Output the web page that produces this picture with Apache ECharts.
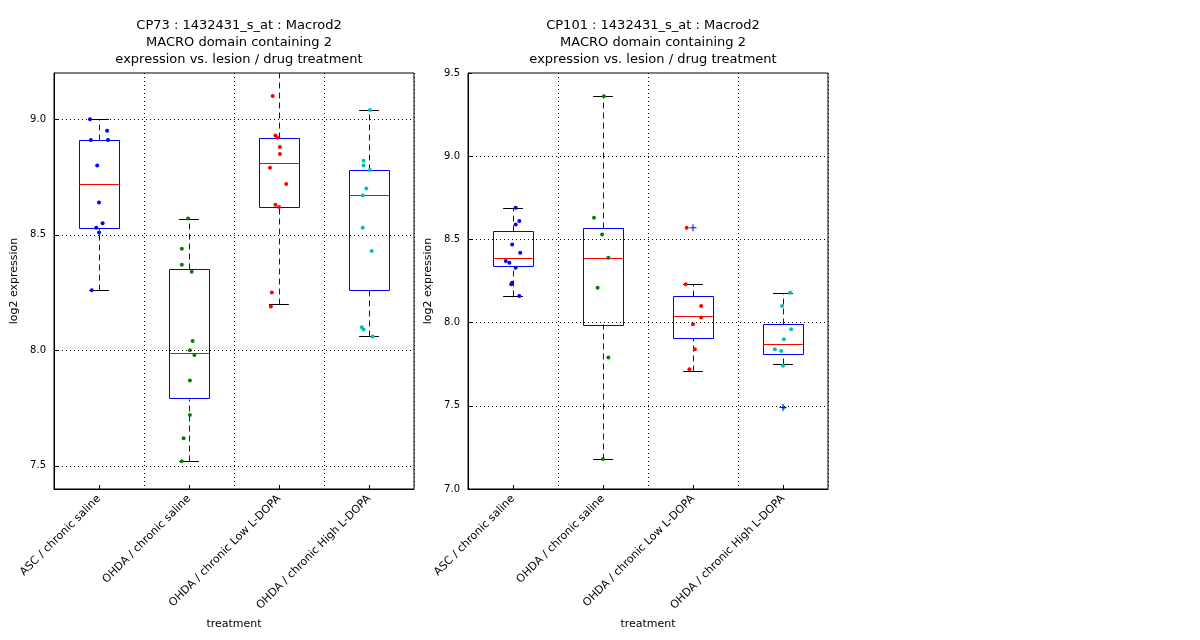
<!DOCTYPE html>
<html>
<head>
<meta charset="utf-8">
<script src="https://cdn.jsdelivr.net/npm/echarts@6/dist/echarts.min.js"></script>
<style>body{margin:0;background:#fff}#chart{width:1200px;height:640px}</style>
</head>
<body>
<div id="chart"></div>
<script>
// Categorias do eixo x
const categorias = ["ASC / chronic saline", "OHDA / chronic saline", "OHDA / chronic Low L-DOPA", "OHDA / chronic High L-DOPA"];
const coresPontos = ["#0000ff", "#008000", "#ff0000", "#00bfbf"];

// Painel 1 : CP73 — caixas [min, q1, mediana, q3, max]
const caixas1 = [
    [8.26, 8.53, 8.72, 8.91, 9.00],
    [7.52, 7.79, 7.99, 8.35, 8.57],
    [8.20, 8.62, 8.81, 8.92, 9.22],
    [8.06, 8.26, 8.67, 8.78, 9.04]
];
// Pontos de cada grupo: [deslocamento em x, valor]
const pontos1 = [
    [[-0.10, 9.00], [-0.09, 8.91], [0.09, 8.95], [0.10, 8.91], [-0.02, 8.80], [0.00, 8.64], [0.04, 8.55], [-0.03, 8.53], [0.00, 8.51], [-0.08, 8.26]],
    [[-0.01, 8.57], [-0.08, 8.44], [-0.08, 8.37], [0.03, 8.34], [0.04, 8.04], [0.01, 8.00], [0.06, 7.98], [0.01, 7.87], [0.01, 7.72], [-0.06, 7.62], [-0.08, 7.52]],
    [[-0.07, 9.10], [-0.04, 8.93], [-0.02, 8.92], [0.01, 8.88], [0.01, 8.85], [-0.10, 8.79], [0.08, 8.72], [-0.04, 8.63], [0.00, 8.62], [-0.08, 8.25], [-0.09, 8.19]],
    [[0.01, 9.04], [-0.06, 8.82], [-0.06, 8.80], [0.01, 8.78], [-0.03, 8.70], [-0.07, 8.67], [-0.07, 8.53], [0.03, 8.43], [-0.08, 8.10], [-0.06, 8.09], [0.04, 8.06]]
];
const outliers1 = [];

// Painel 2 : CP101
const caixas2 = [
    [8.16, 8.34, 8.39, 8.55, 8.69],
    [7.18, 7.99, 8.39, 8.57, 9.36],
    [7.71, 7.91, 8.04, 8.16, 8.23],
    [7.75, 7.81, 7.87, 7.99, 8.18]
];
const pontos2 = [
    [[0.03, 8.69], [0.07, 8.61], [0.03, 8.59], [-0.01, 8.47], [0.08, 8.42], [-0.08, 8.37], [-0.04, 8.36], [0.03, 8.33], [-0.01, 8.24], [-0.02, 8.23], [0.07, 8.16]],
    [[0.01, 9.36], [-0.10, 8.63], [-0.01, 8.53], [0.06, 8.39], [-0.06, 8.21], [0.06, 7.79], [0.00, 7.18]],
    [[-0.07, 8.57], [-0.08, 8.23], [0.09, 8.10], [0.09, 8.03], [0.00, 7.99], [0.02, 7.84], [-0.04, 7.72]],
    [[0.08, 8.18], [-0.01, 8.10], [0.09, 7.96], [0.01, 7.90], [-0.09, 7.84], [-0.02, 7.83], [0.00, 7.74], [0.01, 7.49]]
];
const outliers2 = [[3, 8.57], [4, 7.49]];

const ticks1 = [7.5, 8.0, 8.5, 9.0];
const ticks2 = [7.0, 7.5, 8.0, 8.5, 9.0, 9.5];

const titulos = [
    "CP73 : 1432431_s_at : Macrod2\nMACRO domain containing 2\nexpression vs. lesion / drug treatment",
    "CP101 : 1432431_s_at : Macrod2\nMACRO domain containing 2\nexpression vs. lesion / drug treatment"
];

const fonte = "DejaVu Sans";

function renderCaixa(params, api) {
    const pos = api.value(0);
    const v = [api.value(1), api.value(2), api.value(3), api.value(4), api.value(5)];
    const p = v.map(y => api.coord([pos, y]));
    const xl = api.coord([pos - 0.22, 0])[0], xr = api.coord([pos + 0.22, 0])[0];
    const cl = api.coord([pos - 0.11, 0])[0], cr = api.coord([pos + 0.11, 0])[0];
    const x = Math.round(p[0][0]) + 0.5;
    const r = y => Math.round(y) + 0.5;
    return {
        type: "group",
        children: [
            { type: "line", shape: { x1: x, y1: r(p[0][1]), x2: x, y2: r(p[1][1]) }, style: { stroke: "#0000ff", lineWidth: 1, lineDash: [6, 4], opacity: 1 } },
            { type: "line", shape: { x1: x, y1: r(p[3][1]), x2: x, y2: r(p[4][1]) }, style: { stroke: "#0000ff", lineWidth: 1, lineDash: [6, 4], opacity: 1 } },
            { type: "line", shape: { x1: cl, y1: r(p[0][1]), x2: cr, y2: r(p[0][1]) }, style: { stroke: "#000", lineWidth: 1 } },
            { type: "line", shape: { x1: cl, y1: r(p[4][1]), x2: cr, y2: r(p[4][1]) }, style: { stroke: "#000", lineWidth: 1 } },
            { type: "rect", shape: { x: Math.round(xl) + 0.5, y: r(p[3][1]), width: Math.round(xr - xl), height: Math.round(p[1][1] - p[3][1]) }, style: { stroke: "#0000ff", lineWidth: 1, fill: null } },
            { type: "line", shape: { x1: xl, y1: r(p[2][1]), x2: xr, y2: r(p[2][1]) }, style: { stroke: "#ff0000", lineWidth: 1 } }
        ]
    };
}

function montarPainel(i, caixas, pontos, outliers, ticks, min, max) {
    const series = [];
    series.push({
        type: "custom", xAxisIndex: i * 2 + 1, yAxisIndex: i,
        renderItem: renderCaixa, clip: true,
        data: caixas.map((c, k) => [k + 1, ...c]),
        markLine: {
            silent: true, symbol: "none", label: { show: false },
            lineStyle: { color: "#000", type: [1, 3], width: 1, opacity: 1 },
            data: ticks.filter(t => t > min && t < max).map(t => ({ yAxis: t }))
        },
        z: 2
    });
    pontos.forEach((grupo, k) => {
        series.push({
            type: "scatter", xAxisIndex: i * 2 + 1, yAxisIndex: i,
            symbolSize: 4,
            itemStyle: { color: coresPontos[k], opacity: 1 },
            data: grupo.map(pt => [k + 1 + pt[0], pt[1]]),
            z: 3
        });
    });
    if (outliers.length) {
        series.push({
            type: "scatter", xAxisIndex: i * 2 + 1, yAxisIndex: i,
            symbol: "path://M0,5L10,5M5,0L5,10", symbolSize: 7,
            itemStyle: { color: "transparent", borderColor: "#0000ff", borderWidth: 1, opacity: 1 },
            data: outliers, z: 4
        });
    }
    return series;
}

const grids = [
    { left: 54, top: 73, width: 360, height: 416, show: true, borderColor: "#000", borderWidth: 1 },
    { left: 468, top: 73, width: 360, height: 416, show: true, borderColor: "#000", borderWidth: 1 }
];

const xAxes = [];
const yAxes = [];
[0, 1].forEach(i => {
    xAxes.push({
        type: "category", gridIndex: i, data: categorias,
        name: "treatment", nameLocation: "middle", nameGap: 128,
        nameTextStyle: { fontFamily: fonte, fontSize: 11, color: "#000" },
        axisLine: { lineStyle: { color: "#000" } },
        axisTick: { show: true, inside: true, alignWithLabel: true, length: 4, lineStyle: { color: "#000" } },
        axisLabel: { rotate: 45, fontFamily: fonte, fontSize: 11, color: "#000", margin: 8 },
        splitLine: { show: true, lineStyle: { color: "#000", type: [1, 3] } }
    });
    xAxes.push({
        type: "value", gridIndex: i, min: 0.5, max: 4.5, show: false
    });
});
const faixas = [[7.4, 9.2, ticks1], [7.0, 9.5, ticks2]];
faixas.forEach((f, i) => {
    yAxes.push({
        type: "value", gridIndex: i, min: f[0], max: f[1],
        name: "log2 expression", nameLocation: "middle", nameGap: 34,
        nameTextStyle: { fontFamily: fonte, fontSize: 11, color: "#000" },
        axisLine: { show: true, lineStyle: { color: "#000" } },
        axisTick: { show: true, inside: true, length: 4, customValues: f[2], lineStyle: { color: "#000" } },
        axisLabel: { fontFamily: fonte, fontSize: 10, color: "#000", customValues: f[2], formatter: v => v.toFixed(1) },
        splitLine: { show: false }
    });
});

const series = [
    ...montarPainel(0, caixas1, pontos1, outliers1, ticks1, 7.4, 9.2),
    ...montarPainel(1, caixas2, pontos2, outliers2, ticks2, 7.0, 9.5)
];

const chart = echarts.init(document.getElementById("chart"));
chart.setOption({
    animation: false,
    title: [
        { text: titulos[0], left: 234, top: 12, textAlign: "center", textStyle: { fontFamily: fonte, fontSize: 13, fontWeight: "normal", color: "#000", lineHeight: 17 } },
        { text: titulos[1], left: 648, top: 12, textAlign: "center", textStyle: { fontFamily: fonte, fontSize: 13, fontWeight: "normal", color: "#000", lineHeight: 17 } }
    ],
    grid: grids,
    xAxis: xAxes,
    yAxis: yAxes,
    series
});
</script>
</body>
</html>
